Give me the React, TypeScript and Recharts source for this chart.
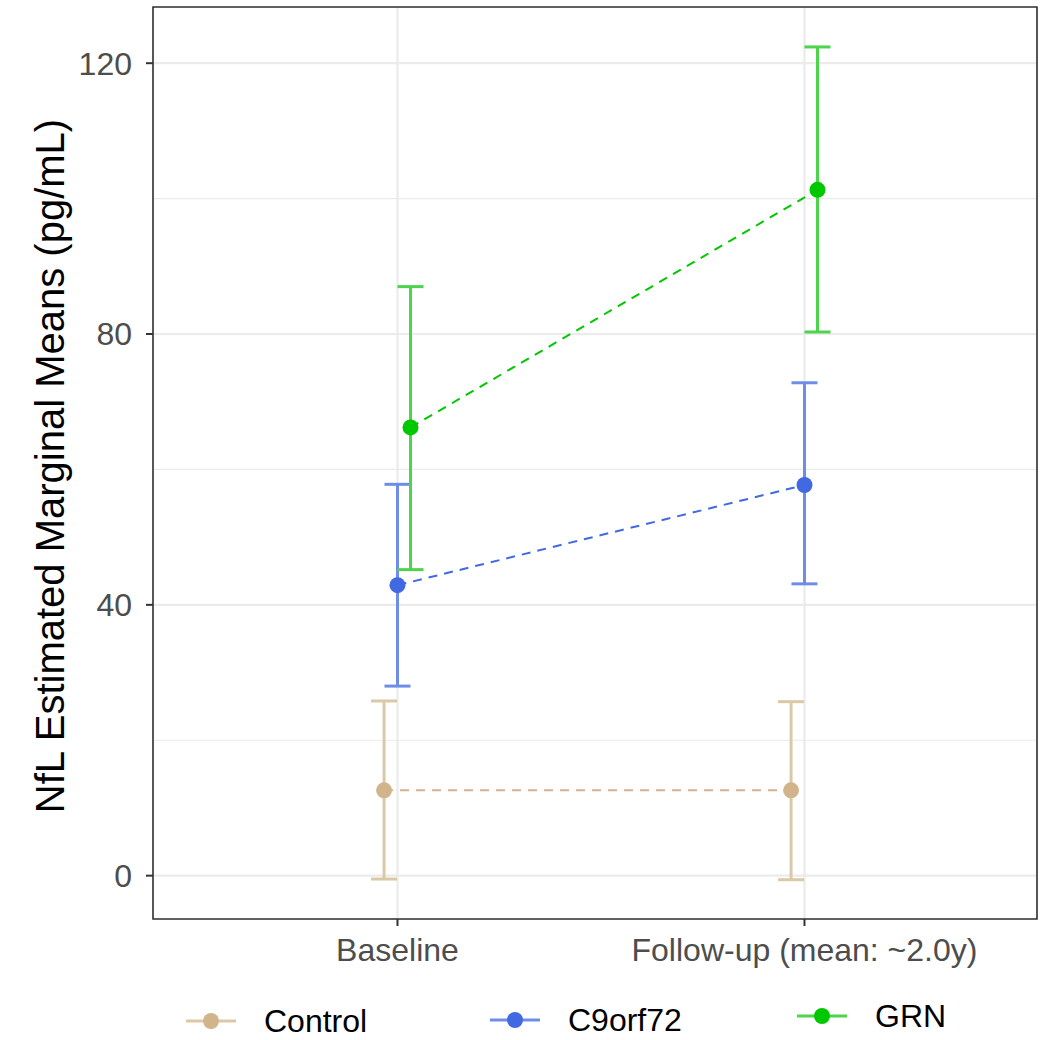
import {
  ComposedChart,
  Line,
  ErrorBar,
  XAxis,
  YAxis,
  CartesianGrid,
  ReferenceArea,
  Label,
} from "recharts";

// timepoints on a numeric axis so groups can be dodged side by side
const timepoints = ["Baseline", "Follow-up (mean: ~2.0y)"];
const timeX = [1, 2];

const groups = ["Control", "C9orf72", "GRN"];
const groupColors = ["#D2B48C", "#4169E1", "#00C800"];
const barColors = ["#DBC9A6", "#6E8DE8", "#4CD44C"];
const dodge = [-0.033, 0, 0.032];

// estimated marginal means and 95% CI per group, [baseline, follow-up]
const controlMean = [12.6, 12.6];
const controlLow = [-0.5, -0.6];
const controlHigh = [25.8, 25.7];

const c9Mean = [42.9, 57.7];
const c9Low = [28.0, 43.1];
const c9High = [57.8, 72.8];

const grnMean = [66.2, 101.3];
const grnLow = [45.2, 80.3];
const grnHigh = [87.0, 122.4];

const yTicks = [0, 40, 80, 120];
const yMinor = [20, 60, 100];

const means = [controlMean, c9Mean, grnMean];
const lows = [controlLow, c9Low, grnLow];
const highs = [controlHigh, c9High, grnHigh];

const series = groups.map((name, g) => ({
  name,
  color: groupColors[g],
  barColor: barColors[g],
  data: timeX.map((x, i) => ({
    x: x + dodge[g],
    y: means[g][i],
    err: [means[g][i] - lows[g][i], highs[g][i] - means[g][i]],
  })),
}));

const FONT = "'Liberation Sans', Arial, Helvetica, sans-serif";
const X_DOMAIN: [number, number] = [0.3993, 2.5713];
const Y_DOMAIN: [number, number] = [-6.4, 128.3];

const renderYTitle = (props: any) => {
  const vb = props.viewBox || { x: 0, y: 0, height: 0 };
  const cx = vb.x + 50;
  const cy = vb.y + vb.height / 2 + 3;
  return (
    <text
      x={cx}
      y={cy}
      transform={`rotate(-90, ${cx}, ${cy})`}
      textAnchor="middle"
      dominantBaseline="central"
      fontFamily={FONT}
      fontSize={40}
      fill="#000"
    >
      NfL Estimated Marginal Means (pg/mL)
    </text>
  );
};

// legend keys sit under the panel, spaced like ggplot's bottom legend
const legendLeft = [186, 490, 797];
const legendTop = [1006, 1005, 1001];

function LegendKey({ color, barColor }: { color: string; barColor: string }) {
  return (
    <svg width={50} height={20} style={{ display: "block" }}>
      <line x1={0} y1={10} x2={50} y2={10} stroke={barColor} strokeWidth={3} />
      <circle cx={25} cy={10} r={8} fill={color} />
    </svg>
  );
}

export default function App() {
  return (
    <div
      style={{
        position: "absolute",
        left: 0,
        top: 0,
        width: 1051,
        height: 1040,
        background: "#fff",
        overflow: "hidden",
      }}
    >
      <ComposedChart
        width={1051}
        height={1040}
        margin={{ top: 7, right: 14, bottom: 0, left: 0 }}
      >
        <CartesianGrid
          horizontalValues={yMinor}
          vertical={false}
          stroke="#EBEBEB"
          strokeWidth={1.2}
        />
        <CartesianGrid stroke="#EBEBEB" strokeWidth={2.2} />
        <XAxis
          type="number"
          dataKey="x"
          domain={X_DOMAIN}
          ticks={timeX}
          tickFormatter={(v) => timepoints[timeX.indexOf(v)] ?? ""}
          allowDataOverflow
          height={121}
          axisLine={false}
          tickSize={7}
          tickMargin={12}
          tickLine={{ stroke: "#333", strokeWidth: 2 }}
          tick={{ fontSize: 32, fill: "#4D4D4D", fontFamily: FONT }}
        />
        <YAxis
          type="number"
          domain={Y_DOMAIN}
          ticks={yTicks}
          allowDataOverflow
          width={153}
          axisLine={false}
          tickSize={7}
          tickMargin={14}
          tickLine={{ stroke: "#333", strokeWidth: 2 }}
          tick={{ fontSize: 32, fill: "#4D4D4D", fontFamily: FONT }}
        >
          <Label content={renderYTitle} />
        </YAxis>
        {series.map((s) => (
          <Line
            key={s.name}
            data={s.data}
            dataKey="y"
            name={s.name}
            type="linear"
            stroke={s.color}
            strokeWidth={2}
            strokeDasharray="9 7"
            dot={{ r: 8, fill: s.color, stroke: s.color, strokeWidth: 0 }}
            activeDot={false}
            isAnimationActive={false}
          >
            <ErrorBar
              dataKey="err"
              direction="y"
              width={13}
              stroke={s.barColor}
              strokeWidth={3}
              isAnimationActive={false}
            />
          </Line>
        ))}
        <ReferenceArea
          x1={X_DOMAIN[0]}
          x2={X_DOMAIN[1]}
          y1={Y_DOMAIN[0]}
          y2={Y_DOMAIN[1]}
          fill="none"
          fillOpacity={0}
          stroke="#333333"
          strokeWidth={1.6}
          ifOverflow="visible"
        />
      </ComposedChart>
      {series.map((s, g) => (
        <div
          key={s.name}
          style={{
            position: "absolute",
            left: legendLeft[g],
            top: legendTop[g],
            display: "flex",
            alignItems: "center",
            gap: 28,
            fontFamily: FONT,
            fontSize: 32,
            color: "#000",
            lineHeight: "30px",
          }}
        >
          <LegendKey color={s.color} barColor={s.barColor} />
          <span>{s.name}</span>
        </div>
      ))}
    </div>
  );
}
